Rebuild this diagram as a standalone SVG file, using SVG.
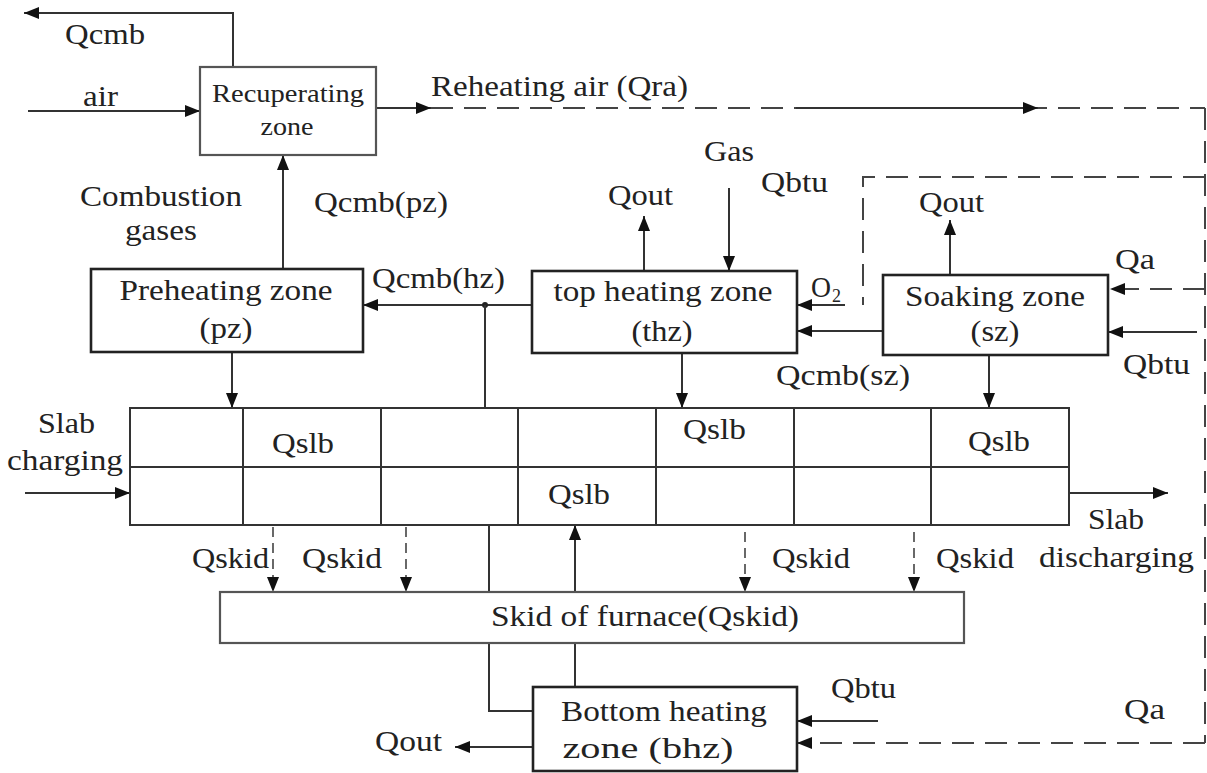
<svg xmlns="http://www.w3.org/2000/svg" width="1207" height="773" viewBox="0 0 1207 773" font-family="'Liberation Serif', 'Times New Roman', serif">
<defs>
<marker id="ah" markerUnits="userSpaceOnUse" markerWidth="16" markerHeight="12" refX="15" refY="6" orient="auto">
<path d="M0,0 L15,6 L0,12 z" fill="#111"/>
</marker>
<style>
.box{fill:#fff;stroke:#222;stroke-width:2.6}
.rbox{fill:#fff;stroke:#555;stroke-width:2.2}
.grid{fill:none;stroke:#333;stroke-width:2}
.ln{fill:none;stroke:#333;stroke-width:2}
.dl{fill:none;stroke:#444;stroke-width:2;stroke-dasharray:22 11}
.ds{fill:none;stroke:#444;stroke-width:1.6;stroke-dasharray:10 6}
.arr{marker-end:url(#ah)}
text{font-family:"Liberation Serif","Times New Roman",serif;fill:#222;font-size:29px}
.bt{font-size:30px;text-anchor:middle}
</style>
</defs>
<rect width="1207" height="773" fill="#fff"/>

<g id="connectors">
<polyline class="ln arr" points="233,67 233,13 24,13"/>
<line class="ln arr" x1="28" y1="111" x2="200" y2="111"/>
<line class="ln arr" x1="376" y1="108" x2="431" y2="108"/>
<line class="dl" x1="431" y1="108" x2="1205" y2="108"/>
<line class="ln arr" x1="796" y1="108" x2="1038" y2="108"/>
<line class="dl" x1="1205" y1="108" x2="1205" y2="743"/>
<polyline class="dl" points="1205,177 863,177 863,305"/>
<line class="ln arr" x1="845" y1="305" x2="797" y2="305"/>
<line class="dl arr" x1="1205" y1="289" x2="1110" y2="289"/>
<line class="ln arr" x1="1197" y1="332" x2="1108" y2="332"/>
<line class="dl arr" x1="1205" y1="743" x2="797" y2="743"/>
<line class="ln arr" x1="883" y1="331" x2="797" y2="331"/>
<line class="ln arr" x1="950" y1="275" x2="950" y2="220"/>
<line class="ln arr" x1="989" y1="355" x2="989" y2="408"/>
<line class="ln arr" x1="644" y1="271" x2="644" y2="216"/>
<line class="ln arr" x1="729" y1="188" x2="729" y2="271"/>
<line class="ln arr" x1="682" y1="353" x2="682" y2="408"/>
<line class="ln arr" x1="532" y1="305" x2="363" y2="305"/>
<circle cx="485" cy="305" r="3" fill="#222"/>
<line class="ln" x1="485" y1="305" x2="485" y2="408"/>
<line class="ln arr" x1="283" y1="269" x2="283" y2="155"/>
<line class="ln arr" x1="232" y1="352" x2="232" y2="408"/>
<line class="ln arr" x1="25" y1="493" x2="130" y2="493"/>
<line class="ln arr" x1="1069" y1="493" x2="1168" y2="493"/>
<line class="ds arr" x1="273" y1="527" x2="273" y2="592"/>
<line class="ds arr" x1="406" y1="527" x2="406" y2="592"/>
<line class="ds arr" x1="745" y1="532" x2="745" y2="592"/>
<line class="ds arr" x1="914" y1="532" x2="914" y2="592"/>
<line class="ln" x1="489" y1="525" x2="489" y2="592"/>
<line class="ln arr" x1="575" y1="592" x2="575" y2="525"/>
<polyline class="ln" points="489,643 489,711 533,711"/>
<line class="ln" x1="575" y1="643" x2="575" y2="687"/>
<line class="ln arr" x1="533" y1="747" x2="455" y2="747"/>
<line class="ln arr" x1="878" y1="721" x2="797" y2="721"/>

<text x="65" y="44" textLength="80" lengthAdjust="spacingAndGlyphs">Qcmb</text>
<text x="83" y="106" textLength="35" lengthAdjust="spacingAndGlyphs">air</text>
<text x="431" y="96" textLength="257" lengthAdjust="spacingAndGlyphs">Reheating air (Qra)</text>
<text x="80" y="206" textLength="162" lengthAdjust="spacingAndGlyphs">Combustion</text>
<text x="125" y="240" textLength="72" lengthAdjust="spacingAndGlyphs">gases</text>
<text x="314" y="212" textLength="134" lengthAdjust="spacingAndGlyphs">Qcmb(pz)</text>
<text x="372" y="288" textLength="133" lengthAdjust="spacingAndGlyphs">Qcmb(hz)</text>
<text x="704" y="161" textLength="50" lengthAdjust="spacingAndGlyphs">Gas</text>
<text x="761" y="192" textLength="67" lengthAdjust="spacingAndGlyphs">Qbtu</text>
<text x="608" y="205" textLength="65" lengthAdjust="spacingAndGlyphs">Qout</text>
<text x="919" y="212" textLength="65" lengthAdjust="spacingAndGlyphs">Qout</text>
<text x="811" y="297" textLength="20" lengthAdjust="spacingAndGlyphs">O</text>
<text x="832" y="302" style="font-size:18px">2</text>
<text x="1115" y="269" textLength="40" lengthAdjust="spacingAndGlyphs">Qa</text>
<text x="1123" y="374" textLength="67" lengthAdjust="spacingAndGlyphs">Qbtu</text>
<text x="776" y="385" textLength="134" lengthAdjust="spacingAndGlyphs">Qcmb(sz)</text>
<text x="38" y="433" textLength="57" lengthAdjust="spacingAndGlyphs">Slab</text>
<text x="7" y="470" textLength="116" lengthAdjust="spacingAndGlyphs">charging</text>
<text x="1088" y="529" textLength="56" lengthAdjust="spacingAndGlyphs">Slab</text>
<text x="1039" y="567" textLength="155" lengthAdjust="spacingAndGlyphs">discharging</text>
<text x="192" y="568" textLength="77" lengthAdjust="spacingAndGlyphs">Qskid</text>
<text x="302" y="568" textLength="80" lengthAdjust="spacingAndGlyphs">Qskid</text>
<text x="772" y="568" textLength="78" lengthAdjust="spacingAndGlyphs">Qskid</text>
<text x="936" y="568" textLength="78" lengthAdjust="spacingAndGlyphs">Qskid</text>
<text x="375" y="751" textLength="67" lengthAdjust="spacingAndGlyphs">Qout</text>
<text x="831" y="698" textLength="65" lengthAdjust="spacingAndGlyphs">Qbtu</text>
<text x="1124" y="719" textLength="41" lengthAdjust="spacingAndGlyphs">Qa</text>
</g>

<g id="recuperating">
<rect class="rbox" x="200" y="67" width="176" height="88"/>
<text x="288" y="102" style="font-size:26px;text-anchor:middle" textLength="152" lengthAdjust="spacingAndGlyphs">Recuperating</text>
<text x="287" y="135" style="font-size:26px;text-anchor:middle" textLength="53" lengthAdjust="spacingAndGlyphs">zone</text>
</g>

<g id="preheating">
<rect class="box" x="91" y="269" width="272" height="83"/>
<text class="bt" x="226" y="300" textLength="213" lengthAdjust="spacingAndGlyphs">Preheating zone</text>
<text class="bt" x="226" y="338" textLength="53" lengthAdjust="spacingAndGlyphs">(pz)</text>
</g>

<g id="top-heating">
<rect class="box" x="532" y="271" width="265" height="82"/>
<text class="bt" x="663" y="301" textLength="219" lengthAdjust="spacingAndGlyphs">top heating zone</text>
<text class="bt" x="662" y="341" textLength="61" lengthAdjust="spacingAndGlyphs">(thz)</text>
</g>

<g id="soaking">
<rect class="box" x="883" y="275" width="225" height="80"/>
<text class="bt" x="995" y="306" textLength="180" lengthAdjust="spacingAndGlyphs">Soaking zone</text>
<text class="bt" x="995" y="341" textLength="49" lengthAdjust="spacingAndGlyphs">(sz)</text>
</g>

<g id="slab-grid">
<rect class="grid" x="130" y="408" width="939" height="117"/>
<line class="grid" x1="130" y1="467" x2="1069" y2="467"/>
<line class="grid" x1="243" y1="408" x2="243" y2="525"/>
<line class="grid" x1="381" y1="408" x2="381" y2="525"/>
<line class="grid" x1="518" y1="408" x2="518" y2="525"/>
<line class="grid" x1="656" y1="408" x2="656" y2="525"/>
<line class="grid" x1="794" y1="408" x2="794" y2="525"/>
<line class="grid" x1="931" y1="408" x2="931" y2="525"/>
<text x="272" y="453" textLength="62" lengthAdjust="spacingAndGlyphs">Qslb</text>
<text x="548" y="504" textLength="62" lengthAdjust="spacingAndGlyphs">Qslb</text>
<text x="683" y="439" textLength="63" lengthAdjust="spacingAndGlyphs">Qslb</text>
<text x="968" y="451" textLength="62" lengthAdjust="spacingAndGlyphs">Qslb</text>
</g>

<g id="skid">
<rect class="rbox" x="220" y="592" width="744" height="51"/>
<text x="645" y="626" style="text-anchor:middle" textLength="308" lengthAdjust="spacingAndGlyphs">Skid of furnace(Qskid)</text>
</g>

<g id="bottom-heating">
<rect class="box" x="533" y="687" width="264" height="84"/>
<text class="bt" x="664" y="721" textLength="206" lengthAdjust="spacingAndGlyphs">Bottom heating</text>
<text class="bt" x="648" y="758" textLength="171" lengthAdjust="spacingAndGlyphs">zone (bhz)</text>
</g>
</svg>
